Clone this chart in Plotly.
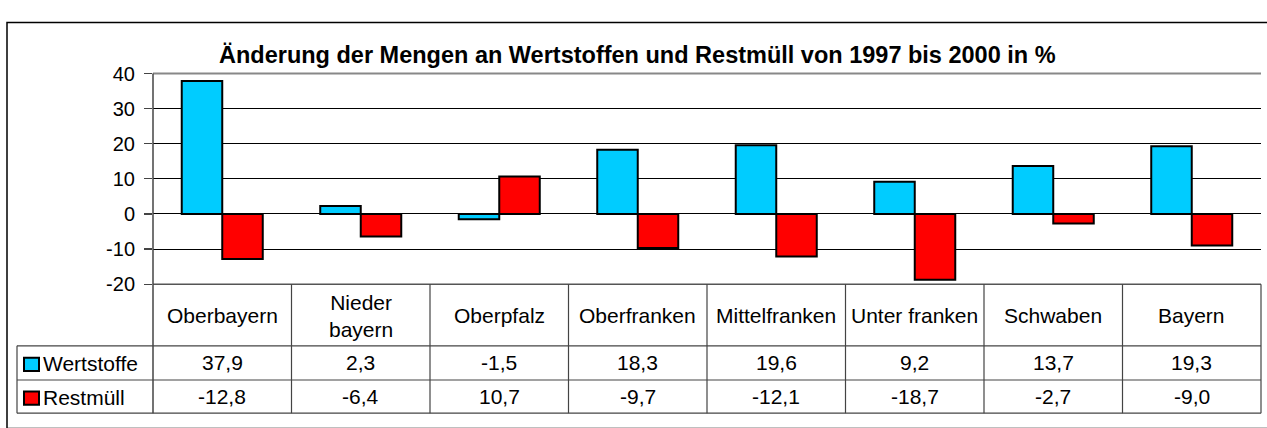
import plotly.graph_objects as go

categories = ["Oberbayern", "Nieder<br>bayern", "Oberpfalz", "Oberfranken",
              "Mittelfranken", "Unter franken", "Schwaben", "Bayern"]
wertstoffe = [37.9, 2.3, -1.5, 18.3, 19.6, 9.2, 13.7, 19.3]
restmuell = [-12.8, -6.4, 10.7, -9.7, -12.1, -18.7, -2.7, -9.0]
series_names = ["Wertstoffe", "Restmüll"]
y_ticks = [-20, -10, 0, 10, 20, 30, 40]
title_text = "Änderung der Mengen an Wertstoffen und Restmüll von 1997 bis 2000 in %"

W, H = 1267, 428
FONT = "Liberation Sans, Arial, sans-serif"
C_W = "#00CCFF"
C_R = "#FF0000"

def px(x):
    return x / W

def py(y):
    return 1 - y / H

# layout geometry (pixels)
PL, PR, PT, PB = 153, 1261, 66, 288
ROW1, ROW2, ROW3 = 353, 389, 424
TL = 17

fig = go.Figure()
fig.add_trace(go.Bar(x=list(range(len(categories))), y=wertstoffe, name=series_names[0],
                     marker=dict(color=C_W, line=dict(color="black", width=2))))
fig.add_trace(go.Bar(x=list(range(len(categories))), y=restmuell, name=series_names[1],
                     marker=dict(color=C_R, line=dict(color="black", width=2))))

shapes = []
# outer frame
shapes.append(dict(type="rect", xref="paper", yref="paper", x0=px(7), x1=px(1275),
                   y0=py(12), y1=py(440), line=dict(color="black", width=1.5), layer="below"))
# top plot border (gray)
shapes.append(dict(type="line", xref="paper", yref="paper", x0=px(PL), x1=px(PR),
                   y0=py(PT), y1=py(PT), line=dict(color="#888888", width=2), layer="above"))
# bottom plot border / table top
shapes.append(dict(type="line", xref="paper", yref="paper", x0=px(PL), x1=px(PR),
                   y0=py(PB), y1=py(PB), line=dict(color="#555555", width=1.5), layer="above"))
# y-axis line extended through table
shapes.append(dict(type="line", xref="paper", yref="paper", x0=px(PL), x1=px(PL),
                   y0=py(PT), y1=py(ROW3), line=dict(color="#444444", width=1.5), layer="above"))
# column separators in table
n = len(categories)
colw = (PR - PL) / n
for i in range(1, n + 1):
    xx = PL + i * colw
    shapes.append(dict(type="line", xref="paper", yref="paper", x0=px(xx), x1=px(xx),
                       y0=py(PB), y1=py(ROW3), line=dict(color="#444444", width=1.2)))
# horizontal rows
for yy in (ROW1, ROW2, ROW3):
    shapes.append(dict(type="line", xref="paper", yref="paper", x0=px(TL), x1=px(PR),
                       y0=py(yy), y1=py(yy), line=dict(color="#444444", width=1.2)))
shapes.append(dict(type="line", xref="paper", yref="paper", x0=px(TL), x1=px(TL),
                   y0=py(ROW1), y1=py(ROW3), line=dict(color="#444444", width=1.2)))
# legend keys
for k, (yy0, col) in enumerate([(ROW1, C_W), (ROW2, C_R)]):
    cy = (yy0 + [ROW2, ROW3][k]) / 2 + 1.5
    shapes.append(dict(type="rect", xref="paper", yref="paper", x0=px(24), x1=px(39),
                       y0=py(cy - 7), y1=py(cy + 7), fillcolor=col,
                       line=dict(color="black", width=2)))

annotations = []
annotations.append(dict(text="<b>" + title_text + "</b>", xref="paper", yref="paper",
                        x=px(637), y=py(46), showarrow=False, xanchor="center", yanchor="middle",
                        font=dict(family=FONT, size=23.5, color="black")))
for i, c in enumerate(categories):
    annotations.append(dict(text=c, xref="x", yref="paper", x=i, y=py((PB + ROW1) / 2 + 1),
                            showarrow=False, xanchor="center", yanchor="middle",
                            font=dict(family=FONT, size=21, color="black")))
    for vals, r0, r1 in ((wertstoffe, ROW1, ROW2), (restmuell, ROW2, ROW3)):
        annotations.append(dict(text=f"{vals[i]:.1f}".replace(".", ","), xref="x", yref="paper",
                                x=i, y=py((r0 + r1) / 2), showarrow=False,
                                xanchor="center", yanchor="middle",
                                font=dict(family=FONT, size=21, color="black")))
for name, r0, r1 in ((series_names[0], ROW1, ROW2), (series_names[1], ROW2, ROW3)):
    annotations.append(dict(text=name, xref="paper", yref="paper", x=px(41), y=py((r0 + r1) / 2 + 1),
                            showarrow=False, xanchor="left", yanchor="middle",
                            font=dict(family=FONT, size=21, color="black")))

fig.update_layout(
    width=W, height=H, margin=dict(l=0, r=0, t=0, b=0),
    paper_bgcolor="white", plot_bgcolor="white",
    barmode="group", bargap=0.415, bargroupgap=0,
    showlegend=False,
    xaxis=dict(domain=[px(PL), px(PR)], range=[-0.5, n - 0.5], showticklabels=False,
               showgrid=False, zeroline=False, showline=False, ticks="", fixedrange=True),
    yaxis=dict(domain=[py(PB), py(PT)], range=[-20, 40], tickvals=y_ticks,
               ticktext=[str(t) for t in y_ticks], ticks="outside", ticklen=8,
               tickcolor="#444444", tickwidth=1.2,
               showgrid=True, gridcolor="black", gridwidth=1,
               zeroline=True, zerolinecolor="black", zerolinewidth=1,
               showline=False, tickfont=dict(family=FONT, size=20, color="black"),
               ticklabelstandoff=5, fixedrange=True),
    shapes=shapes, annotations=annotations,
    font=dict(family=FONT),
)

fig.write_html(
    "out.html",
    config={"displayModeBar": False, "staticPlot": True},
    post_script=(
        "document.body.style.margin='0';"
        "document.documentElement.style.overflow='hidden';"
        "document.body.style.overflow='hidden';"
        "var d=document.getElementById('{plot_id}');"
        "d.style.position='fixed';d.style.top='0px';d.style.left='0px';"
    ),
)
